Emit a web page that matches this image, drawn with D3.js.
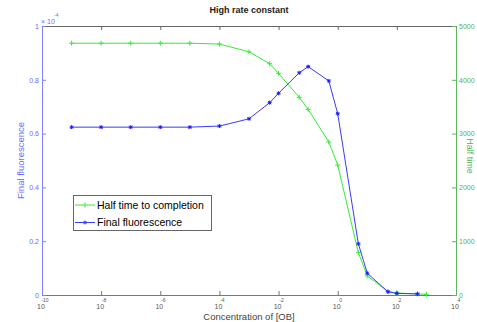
<!DOCTYPE html>
<html>
<head>
<meta charset="utf-8">
<script src="https://cdn.jsdelivr.net/npm/d3@7"></script>
<style>
  body { margin: 0; background: #fff; overflow: hidden; }
  text { font-family: "Liberation Sans", Arial, sans-serif; }
</style>
</head>
<body>
<script>
// concentrations of [OB]
const conc = [1e-9, 1e-8, 1e-7, 1e-6, 1e-5, 1e-4, 1e-3, 5e-3, 1e-2, 5e-2, 0.1, 0.5, 1, 5, 10, 50, 100, 500, 1000];
// half time to completion (right axis)
const halfTime = [4680, 4680, 4680, 4680, 4680, 4665, 4520, 4300, 4120, 3675, 3450, 2845, 2415, 785, 355, 65, 37, 20, 13];
// final fluorescence (left axis, last point missing)
const fluor = [6.24e-5, 6.24e-5, 6.24e-5, 6.24e-5, 6.24e-5, 6.28e-5, 6.55e-5, 7.15e-5, 7.50e-5, 8.26e-5, 8.49e-5, 7.96e-5, 6.74e-5, 1.90e-5, 0.81e-5, 0.12e-5, 0.06e-5, 0.04e-5];
const xTickExp = [-10, -8, -6, -4, -2, 0, 2, 4];
const leftTicks = [0, 2e-5, 4e-5, 6e-5, 8e-5, 1e-4];
const rightTicks = [0, 1000, 2000, 3000, 4000, 5000];

const W = 477, H = 322;
const mLeft = 42, mRight = 456, mTop = 26, mBottom = 295;

const blueAxis = "#7f7fff", greenAxis = "#5fb55f";
const blueLine = "#3a3aff", greenLine = "#33ee33";

const svg = d3.select("body").append("svg")
    .attr("width", W).attr("height", H);

const x = d3.scaleLog().domain([1e-10, 1e4]).range([mLeft, mRight]);
const yL = d3.scaleLinear().domain([0, 1e-4]).range([mBottom, mTop]);
const yR = d3.scaleLinear().domain([0, 5000]).range([mBottom, mTop]);

// top border with ticks
svg.append("g")
    .attr("transform", `translate(0,${mTop})`)
    .call(d3.axisTop(x).tickValues(xTickExp.map(e => Math.pow(10, e))).tickSize(-4).tickFormat(""))
    .call(g => g.selectAll("path, line").attr("stroke", "#666"));

// bottom axis
svg.append("g")
    .attr("transform", `translate(0,${mBottom})`)
    .call(d3.axisBottom(x).tickValues(xTickExp.map(e => Math.pow(10, e))).tickSize(-4).tickFormat(""))
    .call(g => g.selectAll("path, line").attr("stroke", "#777"));

xTickExp.forEach(e => {
    const px = x(Math.pow(10, e));
    svg.append("text").attr("x", px - 1).attr("y", 309)
        .attr("text-anchor", "middle").attr("font-size", 7).attr("fill", "#555")
        .text("10");
    svg.append("text").attr("x", px + 3).attr("y", 302)
        .attr("text-anchor", "middle").attr("font-size", 5).attr("fill", "#555")
        .text(e < 0 ? "-" + Math.abs(e) : e);
});

// left axis
svg.append("g")
    .attr("transform", `translate(${mLeft},0)`)
    .call(d3.axisLeft(yL).tickValues(leftTicks).tickSize(-4).tickPadding(3)
        .tickFormat(d => String(+(d * 1e4).toFixed(1))))
    .call(g => g.selectAll("path, line").attr("stroke", blueAxis))
    .call(g => g.selectAll("text").attr("fill", "#6b6bff").attr("font-size", 7)
        .attr("font-family", "Liberation Sans, Arial, sans-serif"));

// right axis
svg.append("g")
    .attr("transform", `translate(${mRight},0)`)
    .call(d3.axisRight(yR).tickValues(rightTicks).tickSize(-4).tickPadding(3).tickFormat(d3.format("d")))
    .call(g => g.selectAll("path, line").attr("stroke", greenAxis))
    .call(g => g.selectAll("text").attr("fill", "#55b055").attr("font-size", 7)
        .attr("font-family", "Liberation Sans, Arial, sans-serif"));

// multiplier
svg.append("text").attr("x", mLeft - 1).attr("y", 24).attr("font-size", 7).attr("fill", "#6b6bff").text("\u00d7 10");
svg.append("text").attr("x", 54).attr("y", 17).attr("font-size", 5).attr("fill", "#6b6bff").text("-4");

// title and labels
svg.append("text").attr("x", (mLeft + mRight) / 2).attr("y", 13).attr("text-anchor", "middle")
    .attr("font-size", 9).attr("font-weight", "bold").attr("fill", "#222").text("High rate constant");
svg.append("text").attr("x", (mLeft + mRight) / 2).attr("y", 320).attr("text-anchor", "middle")
    .attr("font-size", 9.5).attr("fill", "#444").text("Concentration of [OB]");
svg.append("text").attr("transform", `translate(24,${(mTop + mBottom) / 2}) rotate(-90)`)
    .attr("text-anchor", "middle").attr("font-size", 9.5).attr("fill", "#6b6bff").text("Final fluorescence");
svg.append("text").attr("transform", `translate(467,156) rotate(90)`)
    .attr("text-anchor", "middle").attr("font-size", 9).attr("fill", "#55b055").text("Half time");

// green series
const greenData = conc.map((c, i) => [c, halfTime[i]]);
svg.append("path").datum(greenData)
    .attr("fill", "none").attr("stroke", greenLine).attr("stroke-width", 1)
    .attr("d", d3.line().x(d => x(d[0])).y(d => yR(d[1])));
svg.append("g").selectAll("path").data(greenData).join("path")
    .attr("stroke", greenLine).attr("stroke-width", 1).attr("fill", "none")
    .attr("d", d => {
        const px = x(d[0]), py = yR(d[1]);
        return `M${px - 2.5},${py}H${px + 2.5}M${px},${py - 2.5}V${py + 2.5}`;
    });

// blue series
const blueData = fluor.map((f, i) => [conc[i], f]);
svg.append("path").datum(blueData)
    .attr("fill", "none").attr("stroke", blueLine).attr("stroke-width", 1)
    .attr("d", d3.line().x(d => x(d[0])).y(d => yL(d[1])));
svg.append("g").selectAll("path").data(blueData).join("path")
    .attr("stroke", "#1a1aff").attr("stroke-width", 1).attr("fill", "none")
    .attr("d", d => {
        const px = x(d[0]), py = yL(d[1]);
        return `M${px - 2},${py}H${px + 2}M${px},${py - 2}V${py + 2}` +
            `M${px - 1.5},${py - 1.5}L${px + 1.5},${py + 1.5}M${px - 1.5},${py + 1.5}L${px + 1.5},${py - 1.5}`;
    });

// legend
const lg = svg.append("g");
lg.append("rect").attr("x", 73.5).attr("y", 195.5).attr("width", 138).attr("height", 35)
    .attr("fill", "#fff").attr("stroke", "#666").attr("stroke-width", 1);
[["Half time to completion", greenLine, 205, "plus"], ["Final fluorescence", blueLine, 222.5, "star"]].forEach(([label, col, ly, m]) => {
    lg.append("line").attr("x1", 75).attr("x2", 95).attr("y1", ly).attr("y2", ly)
        .attr("stroke", col).attr("stroke-width", 1);
    const cx = 85;
    lg.append("path").attr("stroke", col).attr("fill", "none")
        .attr("d", m === "plus"
            ? `M${cx},${ly - 2.5}V${ly + 2.5}`
            : `M${cx},${ly - 2}V${ly + 2}M${cx - 1.5},${ly - 1.5}L${cx + 1.5},${ly + 1.5}M${cx - 1.5},${ly + 1.5}L${cx + 1.5},${ly - 1.5}`);
    lg.append("text").attr("x", 97).attr("y", ly + 3.5).attr("font-size", 10.5).attr("fill", "#000").text(label);
});
</script>
</body>
</html>
